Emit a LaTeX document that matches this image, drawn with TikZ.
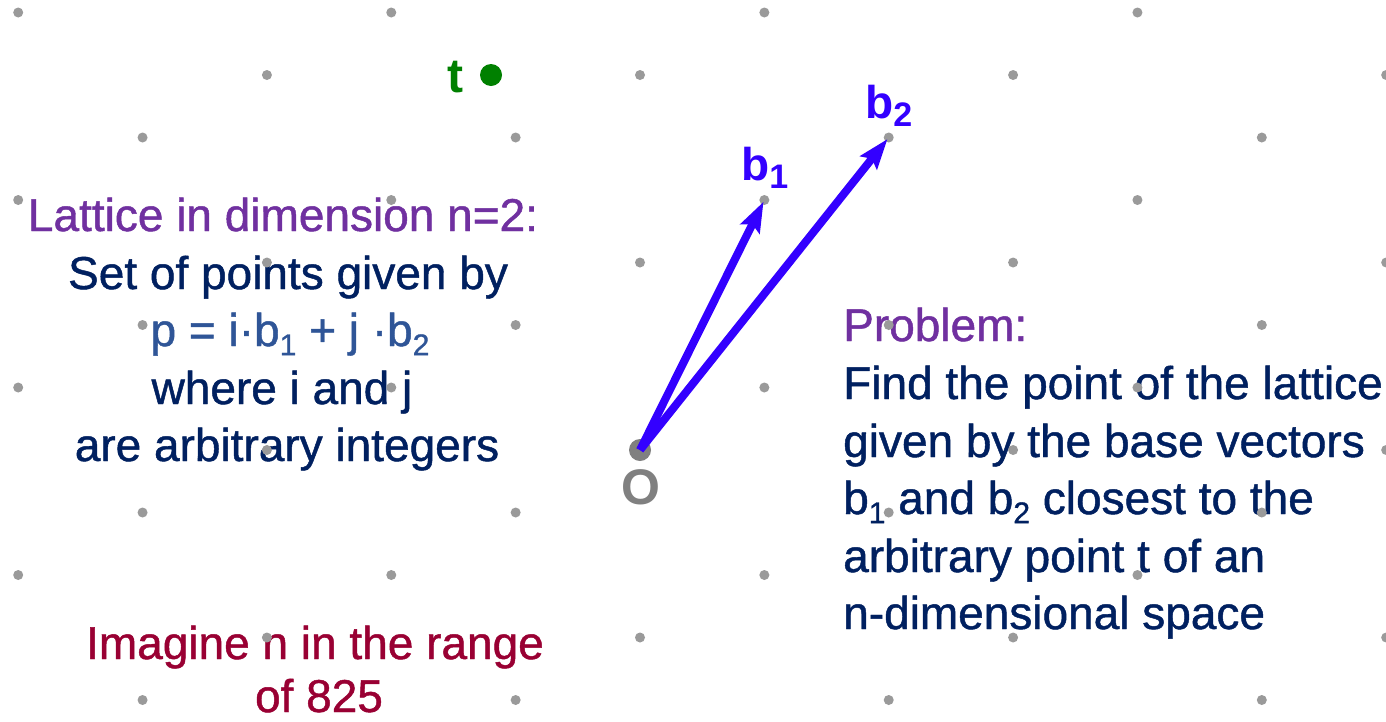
\documentclass[tikz,border=0pt]{standalone}
\usepackage{fontspec}
\setmainfont{Liberation Sans}
\newfontfamily\heavyfont{Liberation Sans}[FakeBold=1.0]
\usetikzlibrary{arrows.meta}
\definecolor{latpurple}{HTML}{7030A0}
\definecolor{navy}{HTML}{002060}
\definecolor{formblue}{HTML}{2F5597}
\definecolor{darkred}{HTML}{990033}
\definecolor{vecblue}{HTML}{3300FF}
\definecolor{dotgray}{HTML}{9A9A9A}
\definecolor{ogray}{HTML}{808080}
\definecolor{tgreen}{HTML}{008000}
\newcommand\sub[1]{\raisebox{-0.2em}{\fontsize{30}{30}\selectfont #1}}
\newcommand\lsub[1]{\raisebox{-0.18em}{\fontsize{34}{34}\selectfont #1}}
\begin{document}
\begin{tikzpicture}[x=1pt,y=-1pt,
  txt/.style={inner sep=0pt, font=\heavyfont\fontsize{46}{58}\selectfont},
  lft/.style={txt, anchor=base},
  rgt/.style={txt, anchor=base west, text=navy},
  latdot/.style={fill=dotgray},
  vec/.style={draw=vecblue, line width=8pt, shorten >=2pt,
    -{Stealth[length=30pt,width=21pt,inset=5pt]}},
  veclabel/.style={inner sep=0pt, anchor=base west, text=vecblue,
    font=\fontsize{46}{46}\selectfont\bfseries}]
\useasboundingbox (0,0) rectangle (1386,721);
\fill[white] (0,0) rectangle (1386,721);

% left text block
\node[lft, text=latpurple] (l1) at (283,231) {Lattice in dimension n=2:};
\node[lft, text=navy] (l2) at (288,289) {Set of points given by};
\node[lft, text=formblue] (l3) at (290,346) {p = i·b\sub{1} + j ·b\sub{2}};
\node[lft, text=navy] (l4) at (282,404) {where i and j};
\node[lft, text=navy] (l5) at (287,461) {are arbitrary integers};

% right text block
\node[rgt, text=latpurple] (r0) at (843,341) {Problem:};
\node[rgt] (r1) at (843,399) {Find the point of the lattice};
\node[rgt] (r2) at (843,457) {given by the base vectors};
\node[rgt] (r3) at (843,514) {b\sub{1} and b\sub{2} closest to the};
\node[rgt] (r4) at (843,572) {arbitrary point t of an};
\node[rgt] (r5) at (843,629) {n-dimensional space};

% bottom text
\node[lft, text=darkred] (i1) at (315,659) {Imagine n in the range};
\node[lft, text=darkred] (i2) at (319,712) {of 825};

% lattice points
\foreach \a in {-5,...,6}{
  \foreach \b in {-4,...,7}{
    \pgfmathtruncatemacro\r{mod(\a-\b+30,3)}
    \ifnum\r=0
      \fill[latdot] ({640+124.36*\a},{450-62.5*\b}) circle (5pt);
    \fi
  }
}

% origin
\coordinate (O) at (640,450);
\coordinate (B1) at (764.4,200);
\coordinate (B2) at (888.7,137.5);
\fill[ogray] (O) circle (11pt);
\node[inner sep=0pt, anchor=base, text=ogray, font=\fontsize{50}{50}\selectfont\bfseries] (olab) at (641,504) {O};

% vectors
\draw[vec] (O) -- (B1);
\draw[vec] (O) -- (B2);
\node[veclabel] (b1lab) at (741,180) {b\lsub{1}};
\node[veclabel] (b2lab) at (865,118) {b\lsub{2}};

% target point t
\fill[tgreen] (491,75) circle (11pt);
\node[inner sep=0pt, anchor=base, text=tgreen, font=\fontsize{48}{48}\selectfont\bfseries] (tlab) at (455,92) {t};
\end{tikzpicture}
\end{document}
